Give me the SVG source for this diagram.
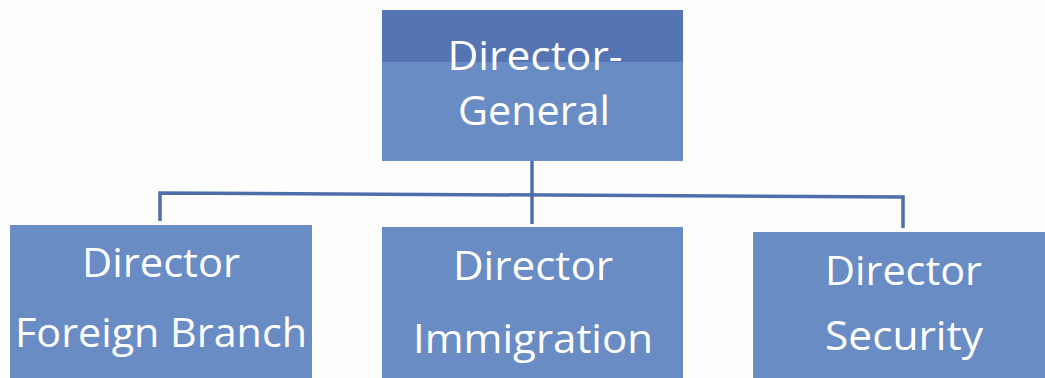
<svg xmlns="http://www.w3.org/2000/svg" width="1045" height="378" viewBox="0 0 1045 378">
<style>
.box{fill:#6a8cc4}
.band{fill:#5575b2}
.t{font-family:"Open Sans","Noto Sans",sans-serif;fill:#ffffff;text-anchor:middle;font-size:40px}
.c{fill:none;stroke:#4f6ea9;stroke-width:3.5;stroke-linejoin:miter}
</style>
<rect width="1045" height="378" fill="#fdfdfc"/>
<g id="connectors">
<polyline class="c" points="160,221 160,193 903,197 903,228"/>
<line class="c" x1="532" y1="161" x2="532" y2="224"/>
</g>
<g id="director-general">
<rect class="box" x="382" y="10" width="301" height="151"/>
<rect class="band" x="382" y="10" width="301" height="52"/>
<text class="t" x="535" y="70" textLength="175" lengthAdjust="spacingAndGlyphs">Director-</text>
<text class="t" x="534" y="125" textLength="152" lengthAdjust="spacingAndGlyphs">General</text>
</g>
<g id="foreign-branch">
<rect class="box" x="10" y="225" width="302" height="160"/>
<text class="t" x="161" y="277" textLength="158" lengthAdjust="spacingAndGlyphs">Director</text>
<text class="t" x="161" y="347" textLength="292" lengthAdjust="spacingAndGlyphs">Foreign Branch</text>
</g>
<g id="immigration">
<rect class="box" x="382" y="227" width="301" height="160"/>
<text class="t" x="533" y="280" textLength="160" lengthAdjust="spacingAndGlyphs">Director</text>
<text class="t" x="533" y="353" textLength="240" lengthAdjust="spacingAndGlyphs">Immigration</text>
</g>
<g id="security">
<rect class="box" x="753" y="232" width="302" height="160"/>
<text class="t" x="903.5" y="285" textLength="157" lengthAdjust="spacingAndGlyphs">Director</text>
<text class="t" x="904" y="350" textLength="158" lengthAdjust="spacingAndGlyphs">Security</text>
</g>
</svg>
